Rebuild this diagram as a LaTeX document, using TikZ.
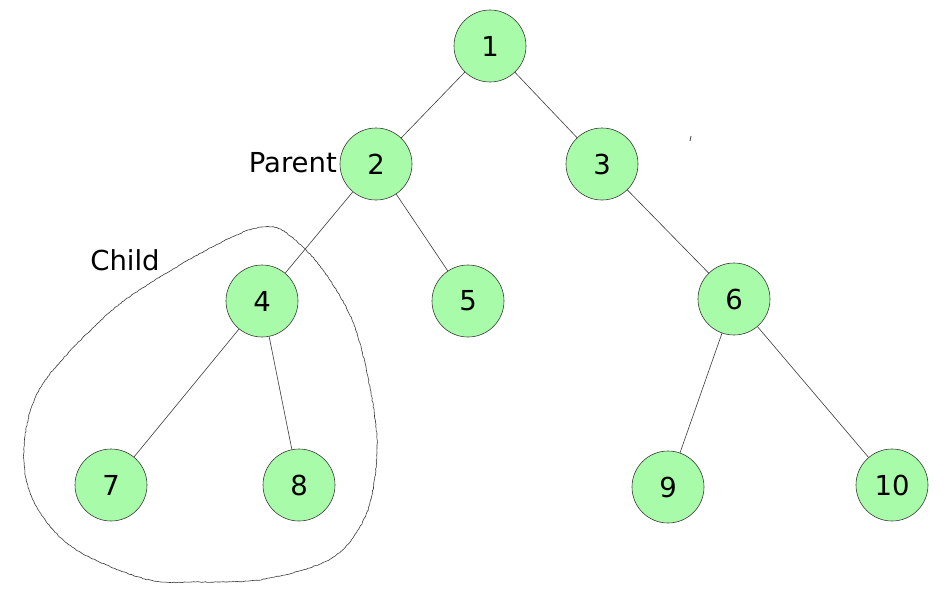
\documentclass[tikz,border=0pt]{standalone}
\usepackage{fontspec}
\setmainfont{DejaVu Sans}
\usetikzlibrary{decorations.pathmorphing}
\definecolor{nodegreen}{HTML}{A8FBA8}
\definecolor{edgegray}{HTML}{3A3A3A}
\begin{document}
\begin{tikzpicture}[x=1pt,y=-1pt,
  treenode/.style={circle,draw=edgegray,line width=0.6pt,fill=nodegreen,minimum size=72pt,inner sep=0pt,font=\fontsize{27.5}{32}\selectfont},
  lbl/.style={font=\fontsize{27.5}{32}\selectfont,inner sep=0pt},
  edge/.style={draw=edgegray,line width=0.6pt}]
\useasboundingbox (0,0) rectangle (950,594);
\node[treenode] (n1) at (490,46) {1};
\node[treenode] (n2) at (376,164) {2};
\node[treenode] (n3) at (602,164) {3};
\node[treenode] (n4) at (262,301) {4};
\node[treenode] (n5) at (468,301) {5};
\node[treenode] (n6) at (734,299) {6};
\node[treenode] (n7) at (111,485) {7};
\node[treenode] (n8) at (299,485) {8};
\node[treenode] (n9) at (668,487) {9};
\node[treenode] (n10) at (892,485) {10};
\draw[edge] (n1) -- (n2);
\draw[edge] (n1) -- (n3);
\draw[edge] (n2) -- (n4);
\draw[edge] (n2) -- (n5);
\draw[edge] (n3) -- (n6);
\draw[edge] (n4) -- (n7);
\draw[edge] (n4) -- (n8);
\draw[edge] (n6) -- (n9);
\draw[edge] (n6) -- (n10);
\node[lbl,anchor=east] (parent) at (337,163) {Parent};
\node[lbl] (child) at (125,260) {Child};
\coordinate (tickA) at (691,136);
\coordinate (tickB) at (690,141);
\draw[edgegray,line width=0.8pt] (tickA) -- (tickB);
\draw[edgegray,line width=0.6pt,decorate,decoration={random steps,segment length=2pt,amplitude=0.4pt}]
  plot[smooth cycle,tension=0.55] coordinates {
  (263,227) (285,232) (320,266) (353,322) (371,393) (377,453) (366,515) (332,558)
  (265,579) (200,582) (145,579) (72,547) (33,500) (24,447) (42,385)
  (110,312) (175,268) (232,237)};
\end{tikzpicture}
\end{document}
